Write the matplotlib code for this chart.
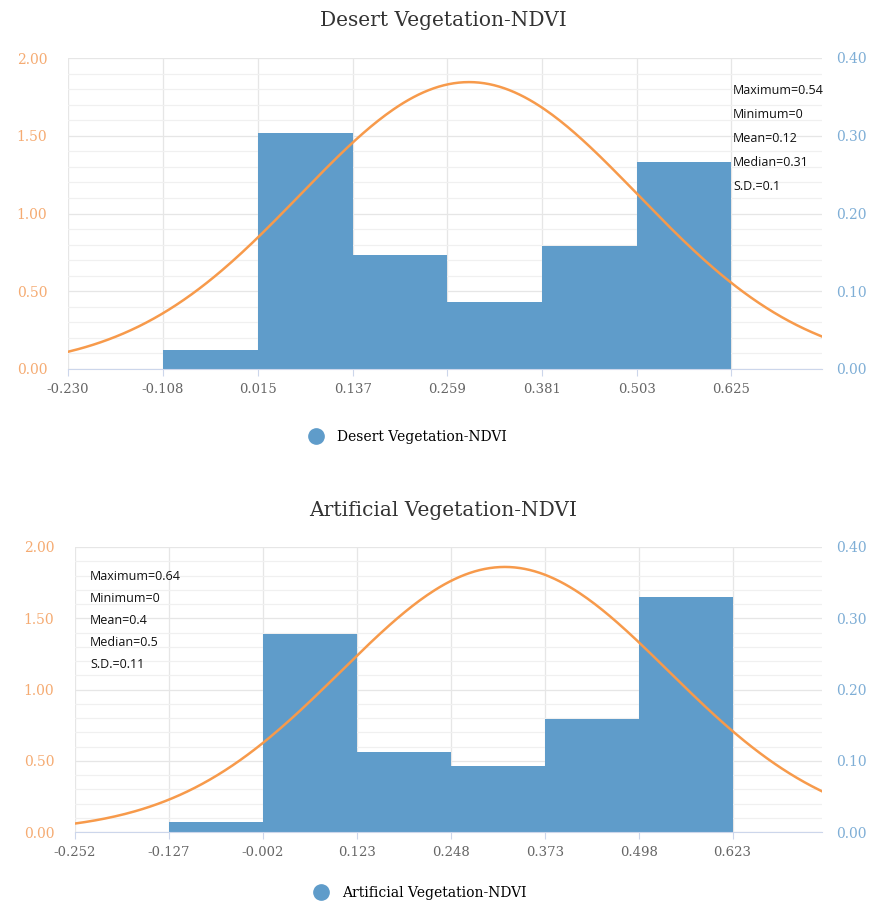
import numpy as np
import matplotlib
matplotlib.use('Agg')
import matplotlib.pyplot as plt
from matplotlib.lines import Line2D

# histogram bins (left-axis density) and normal fit curve (right axis)
desert_title = 'Desert Vegetation-NDVI'
desert_ticks = [-0.230, -0.108, 0.015, 0.137, 0.259, 0.381, 0.503, 0.625]
desert_edges = [-0.108, 0.015, 0.137, 0.259, 0.381, 0.503, 0.625]
desert_heights = [0.12, 1.52, 0.73, 0.43, 0.79, 1.33]
desert_xmax = 0.742
desert_curve = {'center': 0.287, 'sd': 0.218, 'peak': 0.369}
desert_stats = ['Maximum=0.54', 'Minimum=0', 'Mean=0.12', 'Median=0.31', 'S.D.=0.1']

artificial_title = 'Artificial Vegetation-NDVI'
artificial_ticks = [-0.252, -0.127, -0.002, 0.123, 0.248, 0.373, 0.498, 0.623]
artificial_edges = [-0.127, -0.002, 0.123, 0.248, 0.373, 0.498, 0.623]
artificial_heights = [0.07, 1.39, 0.56, 0.46, 0.79, 1.65]
artificial_xmax = 0.742
artificial_curve = {'center': 0.320, 'sd': 0.218, 'peak': 0.372}
artificial_stats = ['Maximum=0.64', 'Minimum=0', 'Mean=0.4', 'Median=0.5', 'S.D.=0.11']

left_ticks = [0.0, 0.5, 1.0, 1.5, 2.0]
right_ticks = [0.0, 0.1, 0.2, 0.3, 0.4]

BAR = '#5f9cca'
CURVE = '#f79a4b'
LEFT_LBL = '#f5ab72'
RIGHT_LBL = '#7eaed6'
GRID = '#e6e6e6'
MINOR_GRID = '#f0f0f0'
SERIF = 'DejaVu Serif'


def draw_panel(fig, rect, title, title_y, ticks, edges, heights, xmax, curve,
               stats, stats_xy, stats_step, legend_xy):
    ax = fig.add_axes(rect)
    widths = np.diff(edges)
    ax.bar(edges[:-1], heights, width=widths, align='edge', color=BAR,
           edgecolor='none', zorder=2)
    ax.set_xlim(ticks[0], xmax)
    ax.set_ylim(0, 2.0)
    ax.set_xticks(ticks)
    ax.set_xticklabels(['%.3f' % t for t in ticks], fontsize=9.5,
                       family=SERIF, color='#666666')
    ax.set_yticks(left_ticks)
    ax.set_yticklabels(['%.2f' % t for t in left_ticks], fontsize=10,
                       family=SERIF, color=LEFT_LBL)
    ax.set_yticks(np.arange(0, 2.01, 0.1), minor=True)
    ax.grid(True, which='minor', axis='y', color=MINOR_GRID, lw=0.9, zorder=0)
    ax.grid(True, which='major', axis='y', color=GRID, lw=0.9, zorder=0)
    ax.grid(True, which='major', axis='x', color=GRID, lw=0.9, zorder=0)
    ax.set_axisbelow(True)
    for s in ['top', 'left', 'right']:
        ax.spines[s].set_visible(False)
    ax.spines['bottom'].set_color('#ccd6eb')
    ax.tick_params(axis='x', length=5, color='#ccd6eb', pad=5)
    ax.tick_params(axis='y', which='both', length=0, pad=15)

    ax2 = ax.twinx()
    x = np.linspace(ticks[0], xmax, 300)
    y = curve['peak'] * np.exp(-0.5 * ((x - curve['center']) / curve['sd']) ** 2)
    ax2.plot(x, y, color=CURVE, lw=1.8, zorder=3)
    ax2.set_ylim(0, 0.4)
    ax2.set_yticks(right_ticks)
    ax2.set_yticklabels(['%.2f' % t for t in right_ticks], fontsize=10,
                        family=SERIF, color=RIGHT_LBL)
    ax2.tick_params(axis='y', length=0, pad=10)
    for s in ax2.spines.values():
        s.set_visible(False)

    for i, line in enumerate(stats):
        ax.text(stats_xy[0], stats_xy[1] - i * stats_step, line,
                transform=ax.transAxes, fontsize=9, family='Open Sans',
                color='#111111', va='center', ha='left', zorder=5)

    fig.text(0.5, title_y, title, ha='center', va='center', fontsize=14.5,
             family=SERIF, color='#333333')

    handle = Line2D([], [], marker='o', ls='none', color=BAR, markersize=11)
    ax.legend([handle], [title], loc='center', bbox_to_anchor=legend_xy,
              frameon=False, prop={'family': SERIF, 'size': 10},
              handletextpad=0.5)
    return ax


fig = plt.figure(figsize=(8.87, 9.07), dpi=100)

draw_panel(fig, [68 / 887, 1 - 369 / 907, 754 / 887, 311 / 907],
           desert_title, 1 - 20 / 907, desert_ticks, desert_edges,
           desert_heights, desert_xmax, desert_curve, desert_stats,
           (0.882, 0.897), 0.0772, (0.446, -0.219))

draw_panel(fig, [75 / 887, 1 - 832 / 907, 747 / 887, 285 / 907],
           artificial_title, 1 - 510 / 907, artificial_ticks, artificial_edges,
           artificial_heights, artificial_xmax, artificial_curve,
           artificial_stats, (0.020, 0.898), 0.078, (0.458, -0.214))

fig.savefig('out.png', dpi=100, facecolor='white')
